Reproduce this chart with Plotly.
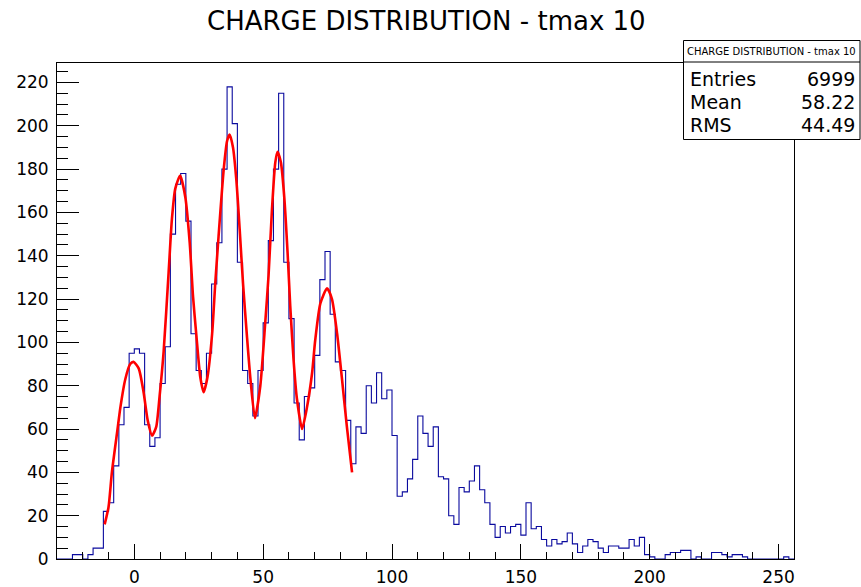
import plotly.graph_objects as go

# ---------------- data ----------------
x_min = -30.0
x_max = 256.0
bin_width = 2.0
counts = [
    0, 0, 0, 2, 2, 0, 2, 5, 5, 22,
    26, 43, 62, 70, 95, 97, 95, 62, 52, 56,
    81, 98, 150, 173, 178, 156, 104, 87, 81, 95,
    127, 146, 180, 218, 201, 137, 87, 81, 66, 87,
    109, 147, 180, 215, 137, 111, 72, 55, 75, 79,
    94, 129, 142, 113, 91, 87, 64, 44, 61, 58,
    80, 72, 86, 74, 78, 57, 29, 31, 37, 46,
    66, 58, 52, 61, 38, 37, 20, 16, 33, 31,
    36, 43, 32, 26, 16, 10, 15, 12, 15, 16,
    11, 26, 14, 15, 9, 6, 9, 7, 8, 12,
    7, 3, 6, 9, 8, 5, 3, 6, 6, 5,
    5, 9, 6, 10, 2, 1, 0, 0, 2, 3,
    3, 4, 4, 0, 1, 0, 0, 3, 3, 2,
    1, 2, 2, 1, 0, 0, 0, 0, 0, 0,
    0, 1, 0,
]

# fit curve
fit_x = [-11.5, -10, -8.7, -6.5, -5.4, -3.5, -1.6, -0.3, 1.7, 3.6, 5.2, 6.9, 8.5, 9.8,
         11.4, 13.3, 14.6, 15.9, 17.8, 19.8, 21.5, 22.8, 24.1, 25.6, 26.9, 28.4, 30.2,
         31.4, 32.7, 34.7, 36.0, 37.0, 38.3, 39.6, 40.9, 42.2, 43.7, 45.0, 46.8, 48.9,
         50.8, 52.1, 53.4, 54.7, 55.6, 56.9, 58.2, 59.5, 60.5, 61.8, 63.1, 65.1, 67.0,
         69.0, 70.2, 72.2, 74.8, 76.7, 78.7, 80.6, 82.5, 84.5]
fit_y = [16, 24, 40, 60, 70, 83, 90, 91, 88, 77, 64, 57, 61, 75,
         96, 132, 157, 171, 177, 167, 146, 121, 103, 84, 77, 84, 104,
         127, 149, 180, 193, 196, 190, 175, 152, 127, 103, 84, 65, 80,
         109, 131, 161, 183, 188, 183, 167, 141, 117, 92, 74, 60, 70,
         86, 101, 118, 125, 120, 104, 83, 61, 40]

y_max = 229
title_text = "CHARGE DISTRIBUTION - tmax 10"
stats_title = "CHARGE DISTRIBUTION - tmax 10"
stats_labels = ["Entries", "Mean", "RMS"]
stats_values = ["6999", "58.22", "44.49"]

# ---------------- layout helpers (pixels -> paper) ----------------
W, H = 861, 587
L, R, T, B = 57, 67, 63, 28
PW, PH = W - L - R, H - T - B


def px(xp):
    return (xp - L) / PW


def py(yp):
    return (H - B - yp) / PH


edges = [x_min + bin_width * i for i in range(len(counts) + 1)]
step_y = counts + [counts[-1]]

FONT = "DejaVu Sans"

fig = go.Figure()
fig.add_trace(go.Scatter(
    x=edges, y=step_y, mode="lines",
    line=dict(color="#0a0a9e", width=1.1, shape="hv"),
    hoverinfo="skip", showlegend=False))
fig.add_trace(go.Scatter(
    x=fit_x, y=fit_y, mode="lines",
    line=dict(color="#ff0000", width=2.6, shape="spline", smoothing=0.6),
    hoverinfo="skip", showlegend=False))

fig.update_xaxes(
    range=[x_min, x_max], showline=True, linecolor="black", linewidth=1, mirror=True,
    ticks="inside", ticklen=15, tickwidth=1, tickcolor="black",
    tickmode="linear", tick0=0, dtick=50,
    showgrid=False, zeroline=False, ticklabelstandoff=3,
    tickfont=dict(family=FONT, size=17, color="black"),
    minor=dict(ticks="inside", ticklen=7, tickwidth=1, tickcolor="black",
               tick0=0, dtick=10, showgrid=False))
fig.update_yaxes(
    range=[0, y_max], showline=True, linecolor="black", linewidth=1, mirror=True,
    ticks="inside", ticklen=22, tickwidth=1, tickcolor="black",
    tickmode="linear", tick0=0, dtick=20,
    showgrid=False, zeroline=False, ticklabelstandoff=4,
    tickfont=dict(family=FONT, size=17, color="black"),
    minor=dict(ticks="inside", ticklen=11, tickwidth=1, tickcolor="black",
               tick0=0, dtick=5, showgrid=False))

annotations = [
    dict(text=title_text, x=px(426), y=py(21.5), xref="paper", yref="paper",
         xanchor="center", yanchor="middle", showarrow=False,
         font=dict(family=FONT, size=26, color="black")),
    dict(text=stats_title, x=px(771.5), y=py(51.5), xref="paper", yref="paper",
         xanchor="center", yanchor="middle", showarrow=False,
         font=dict(family=FONT, size=10, color="black")),
]
row_y = [78.5, 102, 125.5]
for lab, val, yy in zip(stats_labels, stats_values, row_y):
    annotations.append(dict(text=lab, x=px(688), y=py(yy), xref="paper", yref="paper",
                            xanchor="left", yanchor="middle", showarrow=False,
                            font=dict(family=FONT, size=19, color="black")))
    annotations.append(dict(text=val, x=px(857), y=py(yy), xref="paper", yref="paper",
                            xanchor="right", yanchor="middle", showarrow=False,
                            font=dict(family=FONT, size=19, color="black")))

shapes = [
    dict(type="rect", xref="paper", yref="paper", x0=px(683.5), x1=px(860), y0=py(139.5), y1=py(40.5),
         line=dict(color="black", width=1), fillcolor="white", layer="above"),
    dict(type="line", xref="paper", yref="paper", x0=px(683.5), x1=px(860), y0=py(62), y1=py(62),
         line=dict(color="black", width=1), layer="above"),
]

fig.update_layout(
    width=W, height=H, margin=dict(l=L, r=R, t=T, b=B, autoexpand=False),
    paper_bgcolor="white", plot_bgcolor="white",
    annotations=annotations, shapes=shapes, showlegend=False)

fig.write_html("out.html")
